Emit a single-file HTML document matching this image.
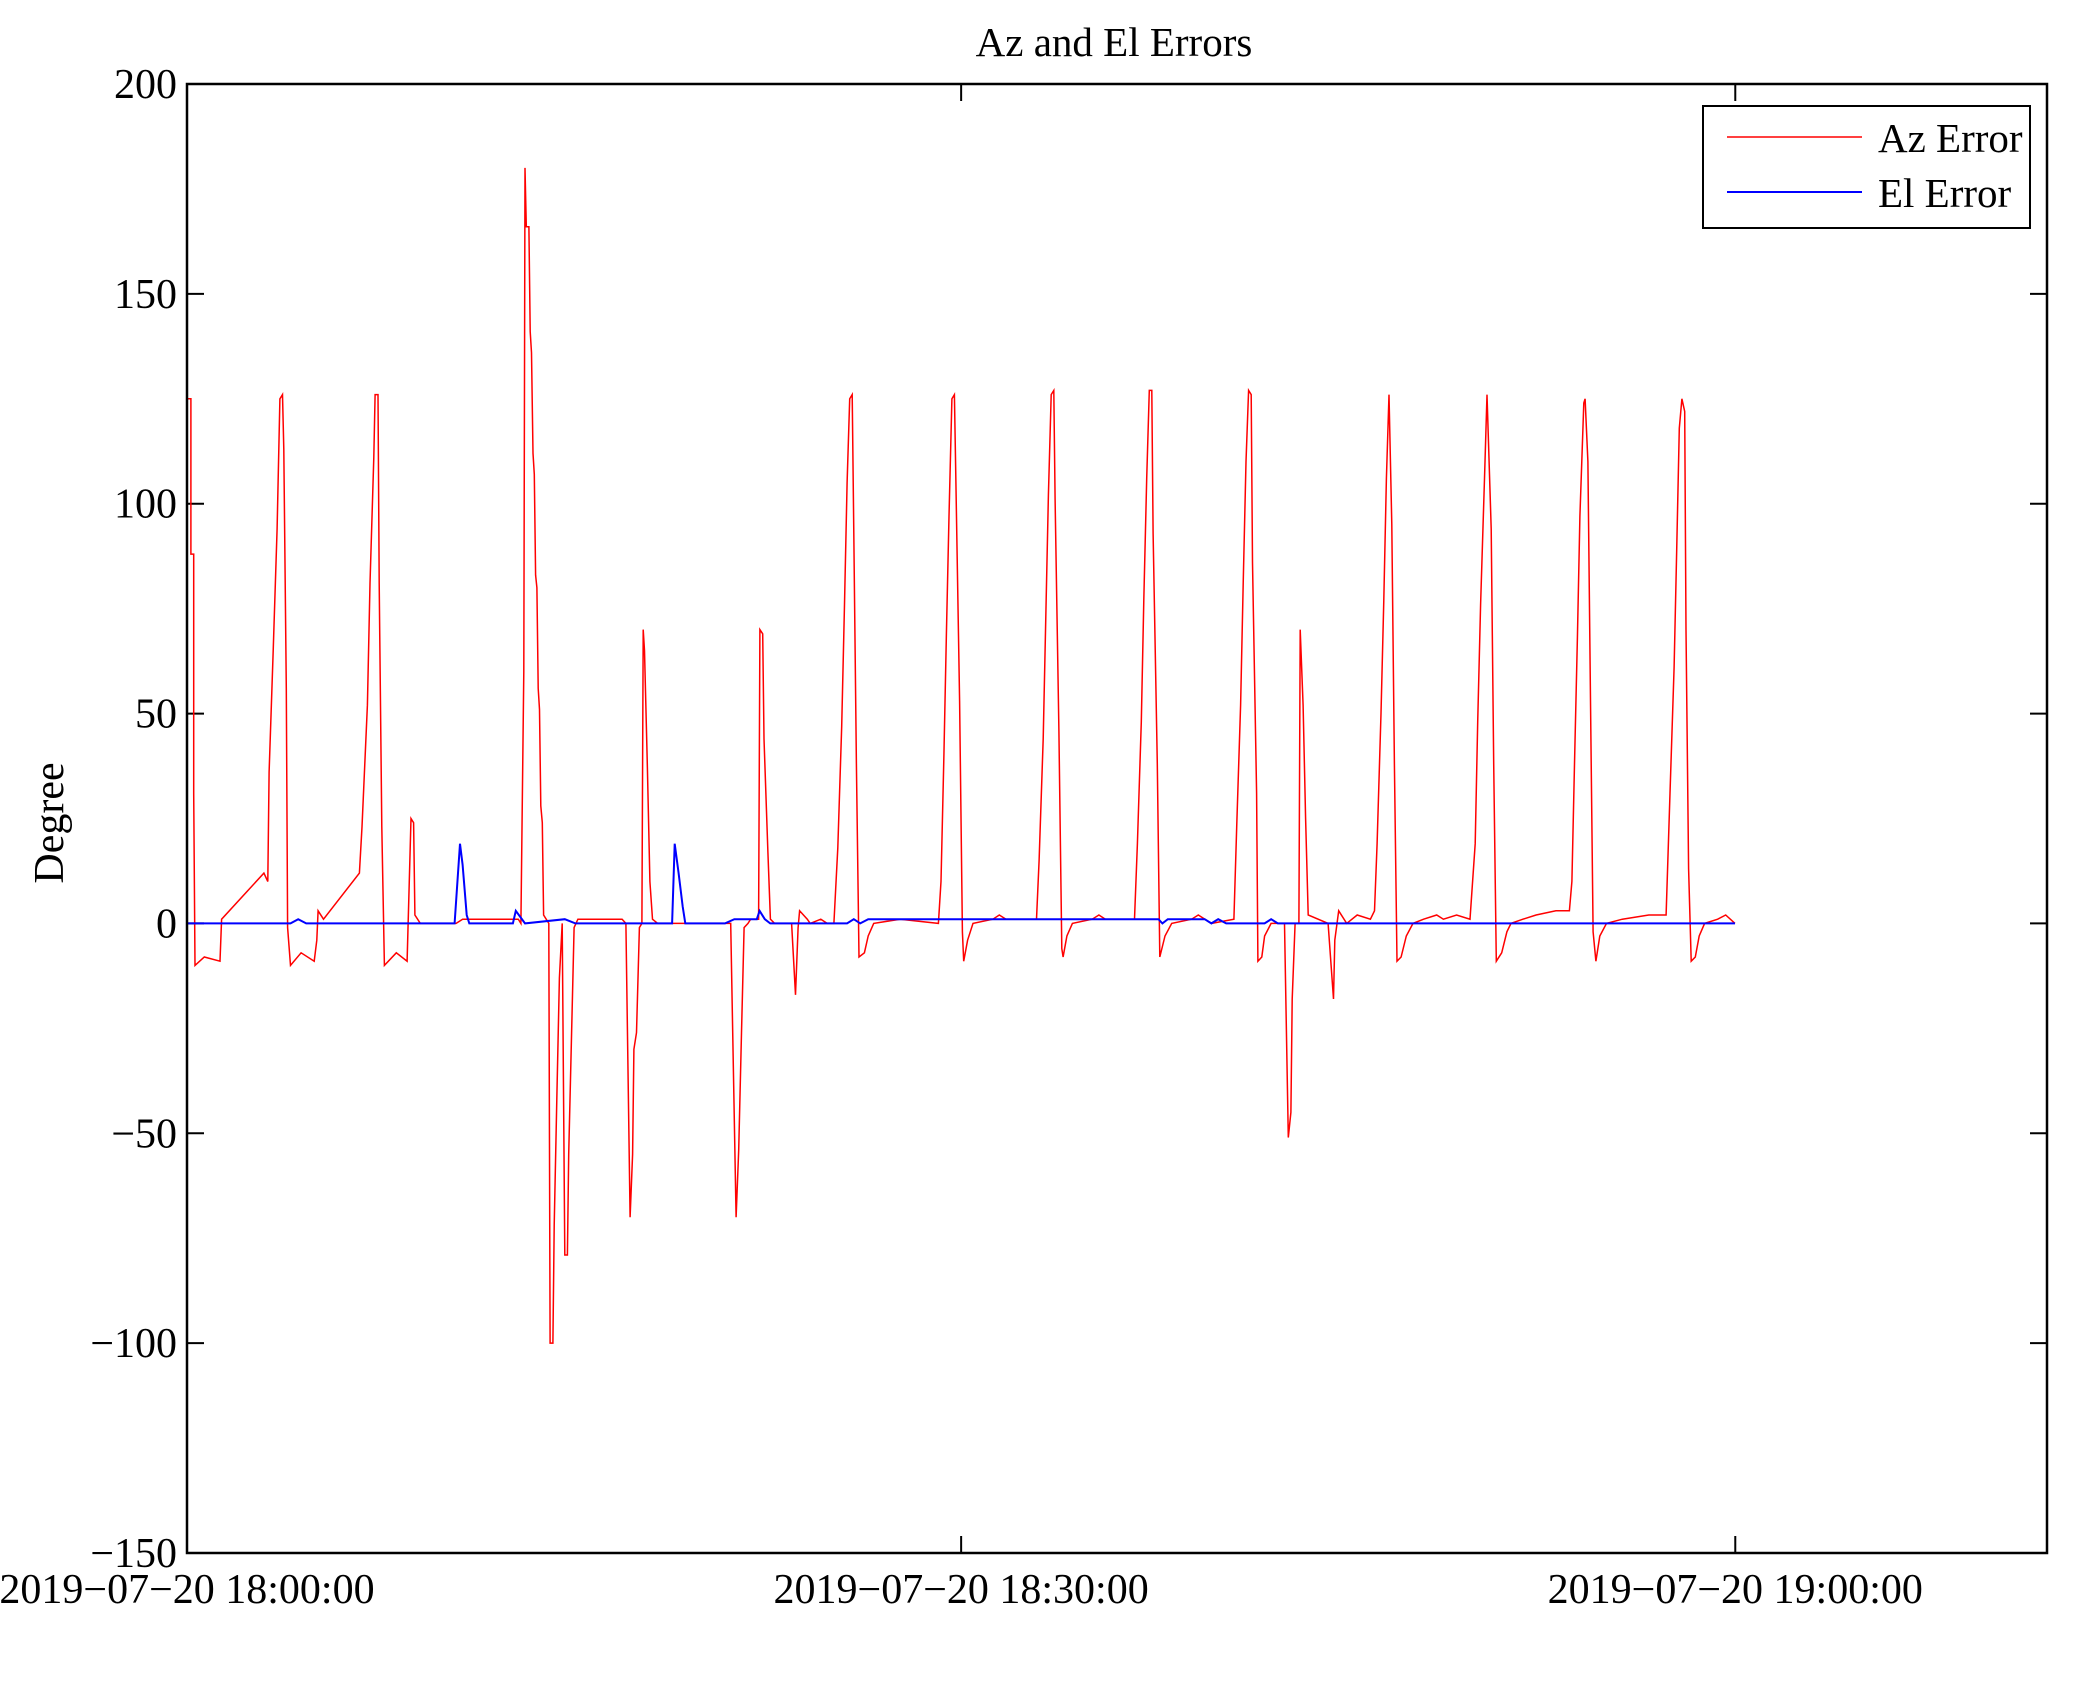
<!DOCTYPE html>
<html><head><meta charset="utf-8"><style>
body{margin:0;background:#fff}
svg{display:block;font-family:"Liberation Serif",serif}
</style></head><body>
<svg id="chart" width="2075" height="1683" viewBox="0 0 2075 1683">
<rect width="2075" height="1683" fill="#fff"/>
<text x="1114" y="56" font-size="41" text-anchor="middle">Az and El Errors</text>
<g id="plot"></g>
<text transform="translate(63,823) rotate(-90)" font-size="42" text-anchor="middle">Degree</text>
<g>
<rect x="1703" y="106" width="327" height="122" fill="#fff" stroke="#000" stroke-width="2"/>
<line x1="1727" y1="137" x2="1862" y2="137" stroke="#f00" stroke-width="1.5"/>
<text x="1878" y="152" font-size="41">Az Error</text>
<line x1="1727" y1="192" x2="1862" y2="192" stroke="#00f" stroke-width="2"/>
<text x="1878" y="207" font-size="41">El Error</text>
</g>
</svg>
<script>
const azMinutes=[0,0.15,0.15,0.26,0.26,0.31,0.67,1.28,1.34,2.98,3.13,3.18,3.34,3.49,3.60,3.70,3.75,3.85,3.90,4.01,4.42,4.93,5.03,5.08,5.29,6.68,6.78,6.99,7.09,7.24,7.29,7.40,7.45,7.55,7.65,8.11,8.53,8.68,8.78,8.83,9.04,10.43,10.68,12.84,12.94,13.05,13.10,13.15,13.25,13.30,13.35,13.41,13.46,13.51,13.56,13.61,13.66,13.71,13.77,13.82,14.02,14.07,14.18,14.23,14.33,14.43,14.54,14.64,14.74,14.79,14.90,15.00,15.15,16.86,17.01,17.17,17.27,17.32,17.42,17.53,17.63,17.68,17.73,17.84,17.94,18.04,18.24,21.07,21.28,21.38,21.49,21.59,21.74,21.84,22.15,22.20,22.31,22.36,22.51,22.61,22.77,23.43,23.58,23.68,23.74,24.04,24.15,24.56,24.81,25.07,25.22,25.37,25.48,25.58,25.68,25.78,25.84,25.94,26.04,26.25,26.40,26.61,27.64,29.12,29.22,29.33,29.43,29.53,29.64,29.74,29.79,29.94,30.05,30.10,30.25,30.46,31.23,31.48,31.74,32.92,33.02,33.18,33.28,33.38,33.49,33.59,33.64,33.79,33.90,33.95,34.10,34.31,35.08,35.34,35.59,36.72,36.83,36.98,37.08,37.19,37.29,37.39,37.44,37.60,37.70,37.90,38.16,38.93,39.19,39.70,40.57,40.68,40.83,40.93,41.04,41.14,41.24,41.29,41.45,41.50,41.65,41.76,42.01,42.53,42.68,42.78,42.83,42.94,43.09,43.14,43.25,43.35,43.45,44.22,44.43,44.48,44.63,44.94,45.35,45.86,46.02,46.12,46.27,46.38,46.48,46.58,46.69,46.79,46.89,47.05,47.25,47.51,47.92,48.43,48.69,49.20,49.72,49.92,50.02,50.13,50.28,50.38,50.54,50.64,50.74,50.95,51.15,51.31,51.77,52.28,53.05,53.57,53.67,53.77,53.88,53.98,54.13,54.18,54.29,54.39,54.49,54.60,54.75,55.01,55.62,56.65,57.32,57.47,57.63,57.73,57.83,57.93,58.04,58.09,58.19,58.29,58.45,58.60,58.81,59.32,59.63,59.99];
const azValues=[125,125,88,88,31,-10,-8,-9,1,12,10,36,65,94,125,126,113,56,-1,-10,-7,-9,-4,3,1,12,23,52,81,111,126,126,81,23,-10,-7,-9,25,24,2,0,0,1,1,0,60,180,166,166,141,136,112,107,83,80,56,51,28,24,2,0,-100,-100,-72,-42,-13,0,-79,-79,-55,-27,-1,1,1,0,-70,-55,-30,-26,-1,0,70,65,37,10,1,0,0,-70,-54,-26,-1,0,1,1,70,69,44,17,1,0,0,-17,-1,3,1,0,1,0,0,18,47,76,105,125,126,93,38,-8,-7,-3,0,1,0,10,40,69,97,125,126,108,53,-2,-9,-4,0,1,2,1,1,15,44,73,102,126,127,101,46,-6,-8,-3,0,1,2,1,1,19,48,77,106,127,127,93,38,-8,-3,0,1,2,0,1,23,52,81,110,127,126,86,31,-9,-8,-3,0,0,-51,-45,-18,0,0,70,52,25,2,0,-18,-4,3,0,2,1,3,19,50,77,106,126,95,38,-9,-8,-3,0,1,2,1,2,1,19,48,76,106,126,94,38,-9,-7,-2,0,1,2,3,3,10,38,68,97,124,125,110,53,-2,-9,-3,0,1,2,2,31,61,89,118,125,122,70,13,-9,-8,-3,0,1,2,0];
const elMinutes=[0,4.01,4.31,4.62,10.37,10.58,10.68,10.84,10.94,12.63,12.74,13.10,14.64,15.05,18.80,18.90,19.05,19.21,19.31,20.85,21.21,22.08,22.19,22.39,22.60,25.58,25.84,26.09,26.40,37.65,37.80,38.01,39.44,39.70,39.96,40.27,41.76,42.01,42.27,59.99];
const elValues=[0,0,1,0,0,19,14,2,0,0,3,0,1,0,0,19,12,4,0,0,1,1,3,1,0,0,1,0,1,1,0,1,1,0,1,0,0,1,0,0];
const yTicks=[200,150,100,50,0,-50,-100,-150];
const yTickLabels=["200","150","100","50","0","\u221250","\u2212100","\u2212150"];
const xTicks=[0,30,60];
const xTickLabels=["2019\u221207\u221220 18:00:00","2019\u221207\u221220 18:30:00","2019\u221207\u221220 19:00:00"];

const L=187,R=2047,T=84,B=1553,XMAX=72.08,YMIN=-150,YMAX=200;
const xs=m=>L+m/XMAX*(R-L);
const ys=v=>B-(v-YMIN)/(YMAX-YMIN)*(B-T);
const NS="http://www.w3.org/2000/svg";
const g=document.getElementById('plot');
function mk(tag,attrs){const e=document.createElementNS(NS,tag);for(const k in attrs)e.setAttribute(k,attrs[k]);g.appendChild(e);return e;}

yTicks.forEach((v,i)=>{
  const y=ys(v);
  const t1=mk('line',{x1:L,y1:y,x2:L+17,y2:y,stroke:'#000','stroke-width':2});
  
  
  const t2=mk('line',{x1:R-17,y1:y,x2:R,y2:y,stroke:'#000','stroke-width':2});
  
  
  const tx=mk('text',{x:177,y:y+14,'font-size':42,'text-anchor':'end'});
  tx.textContent=yTickLabels[i];
  
  
});
xTicks.forEach((m,i)=>{
  const x=xs(m);
  const t1=mk('line',{x1:x,y1:B,x2:x,y2:B-17,stroke:'#000','stroke-width':2});
  
  
  const t2=mk('line',{x1:x,y1:T,x2:x,y2:T+17,stroke:'#000','stroke-width':2});
  
  
  const tx=mk('text',{x:x,y:1603,'font-size':42,'text-anchor':'middle'});
  tx.textContent=xTickLabels[i];
  
  
});
function series(ms,vs,color,w,name){
  const pts=ms.map((m,i)=>xs(m).toFixed(1)+','+ys(vs[i]).toFixed(1)).join(' ');
  const p=mk('polyline',{points:pts,fill:'none',stroke:color,'stroke-width':w,'stroke-linejoin':'miter'});
  
  
}
series(azMinutes,azValues,'#f00',1.5,'az-error-line');
series(elMinutes,elValues,'#00f',2,'el-error-line');
const fr=mk('rect',{x:L,y:T,width:R-L,height:B-T,fill:'none',stroke:'#000','stroke-width':2.5});


</script>
</body></html>
